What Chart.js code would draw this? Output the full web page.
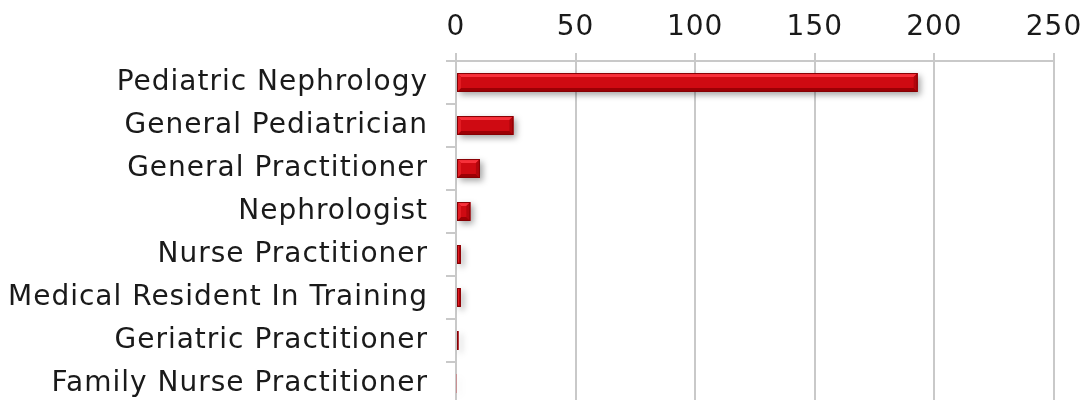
<!DOCTYPE html>
<html>
<head>
<meta charset="utf-8">
<script src="https://cdn.jsdelivr.net/npm/chart.js@4"></script>
<style>
  html, body { margin: 0; padding: 0; background: #fff; overflow: hidden; }
  canvas { display: block; }
</style>
</head>
<body>
<canvas id="chartArea" width="1087" height="405"></canvas>
<script>
// ----------------------------
// data
// ----------------------------
const categories = [
  'Pediatric Nephrology',
  'General Pediatrician',
  'General Practitioner',
  'Nephrologist',
  'Nurse Practitioner',
  'Medical Resident In Training',
  'Geriatric Practitioner',
  'Family Nurse Practitioner'
];
const counts = [193, 24, 10, 6, 2, 2, 1, 0.3];
const xTicks = [0, 50, 100, 150, 200, 250];

const labelFont = { family: "'DejaVu Sans', sans-serif", size: 28 };

// a bit of letter spacing to get closer to the wide original face
const spacingPlugin = {
  id: 'spacing',
  beforeDraw(chart) { chart.ctx.letterSpacing = '1px'; },
  beforeLayout(chart) { chart.ctx.letterSpacing = '1px'; }
};

// shadow + bevel look for the bars
const bevelPlugin = {
  id: 'bevel',
  beforeDatasetsDraw(chart) {
    const ctx = chart.ctx;
    ctx.save();
    ctx.shadowColor = 'rgba(0,0,0,0.35)';
    ctx.shadowBlur = 6;
    ctx.shadowOffsetX = 3;
    ctx.shadowOffsetY = 3;
  },
  afterDatasetsDraw(chart) {
    const ctx = chart.ctx;
    ctx.restore();
    const meta = chart.getDatasetMeta(0);
    meta.data.forEach(bar => {
      const x0 = Math.min(bar.base, bar.x), x1 = Math.max(bar.base, bar.x);
      const h = bar.height, y0 = bar.y - h / 2, y1 = bar.y + h / 2;
      const w = x1 - x0;
      if (w < 1) return;
      const b = Math.min(4, w / 2, h / 2);
      ctx.save();
      // top highlight
      ctx.fillStyle = '#f7303a';
      ctx.beginPath();
      ctx.moveTo(x0, y0); ctx.lineTo(x1, y0); ctx.lineTo(x1 - b, y0 + b); ctx.lineTo(x0 + b, y0 + b);
      ctx.closePath(); ctx.fill();
      // bottom shade
      ctx.fillStyle = '#9c0005';
      ctx.beginPath();
      ctx.moveTo(x0, y1); ctx.lineTo(x1, y1); ctx.lineTo(x1 - b, y1 - b); ctx.lineTo(x0 + b, y1 - b);
      ctx.closePath(); ctx.fill();
      // right end
      ctx.fillStyle = '#b0060c';
      ctx.beginPath();
      ctx.moveTo(x1, y0); ctx.lineTo(x1, y1); ctx.lineTo(x1 - b, y1 - b); ctx.lineTo(x1 - b, y0 + b);
      ctx.closePath(); ctx.fill();
      // left end
      ctx.fillStyle = '#e31b22';
      ctx.beginPath();
      ctx.moveTo(x0, y0); ctx.lineTo(x0, y1); ctx.lineTo(x0 + b, y1 - b); ctx.lineTo(x0 + b, y0 + b);
      ctx.closePath(); ctx.fill();
      ctx.strokeStyle = '#860004';
      ctx.lineWidth = 1;
      ctx.strokeRect(x0 + 0.5, y0 + 0.5, w - 1, h - 1);
      ctx.restore();
    });
  }
};

new Chart(document.getElementById('chartArea'), {
  type: 'bar',
  data: {
    labels: categories,
    datasets: [{
      data: counts,
      backgroundColor: '#cf0a12',
      borderWidth: 0,
      barPercentage: 0.44,
      categoryPercentage: 1
    }]
  },
  options: {
    indexAxis: 'y',
    responsive: false,
    animation: false,
    layout: { padding: { top: 0, left: 0, bottom: 0, right: 33 } },
    plugins: { legend: { display: false }, tooltip: { enabled: false } },
    scales: {
      x: {
        position: 'top',
        min: 0,
        max: 250,
        afterBuildTicks: axis => { axis.ticks = xTicks.map(v => ({ value: v })); },
        afterFit: axis => {
          axis.height = 61;
          axis.paddingLeft = 0; axis.paddingRight = 0;
        },
        grid: { color: '#c9c9c9', lineWidth: 2, tickLength: 8, drawTicks: true },
        border: { color: '#c9c9c9', width: 2 },
        ticks: { color: '#1a1a1a', font: labelFont, padding: 8, maxRotation: 0 }
      },
      y: {
        afterFit: axis => {
          axis.width = 456;
          axis.paddingTop = 0; axis.paddingBottom = 0;
        },
        grid: { drawOnChartArea: false, color: '#c9c9c9', lineWidth: 2, tickLength: 10, offset: true },
        border: { color: '#c9c9c9', width: 2 },
        ticks: { color: '#1a1a1a', font: labelFont, padding: 18, autoSkip: false }
      }
    }
  },
  plugins: [spacingPlugin, bevelPlugin]
});
</script>
</body>
</html>
